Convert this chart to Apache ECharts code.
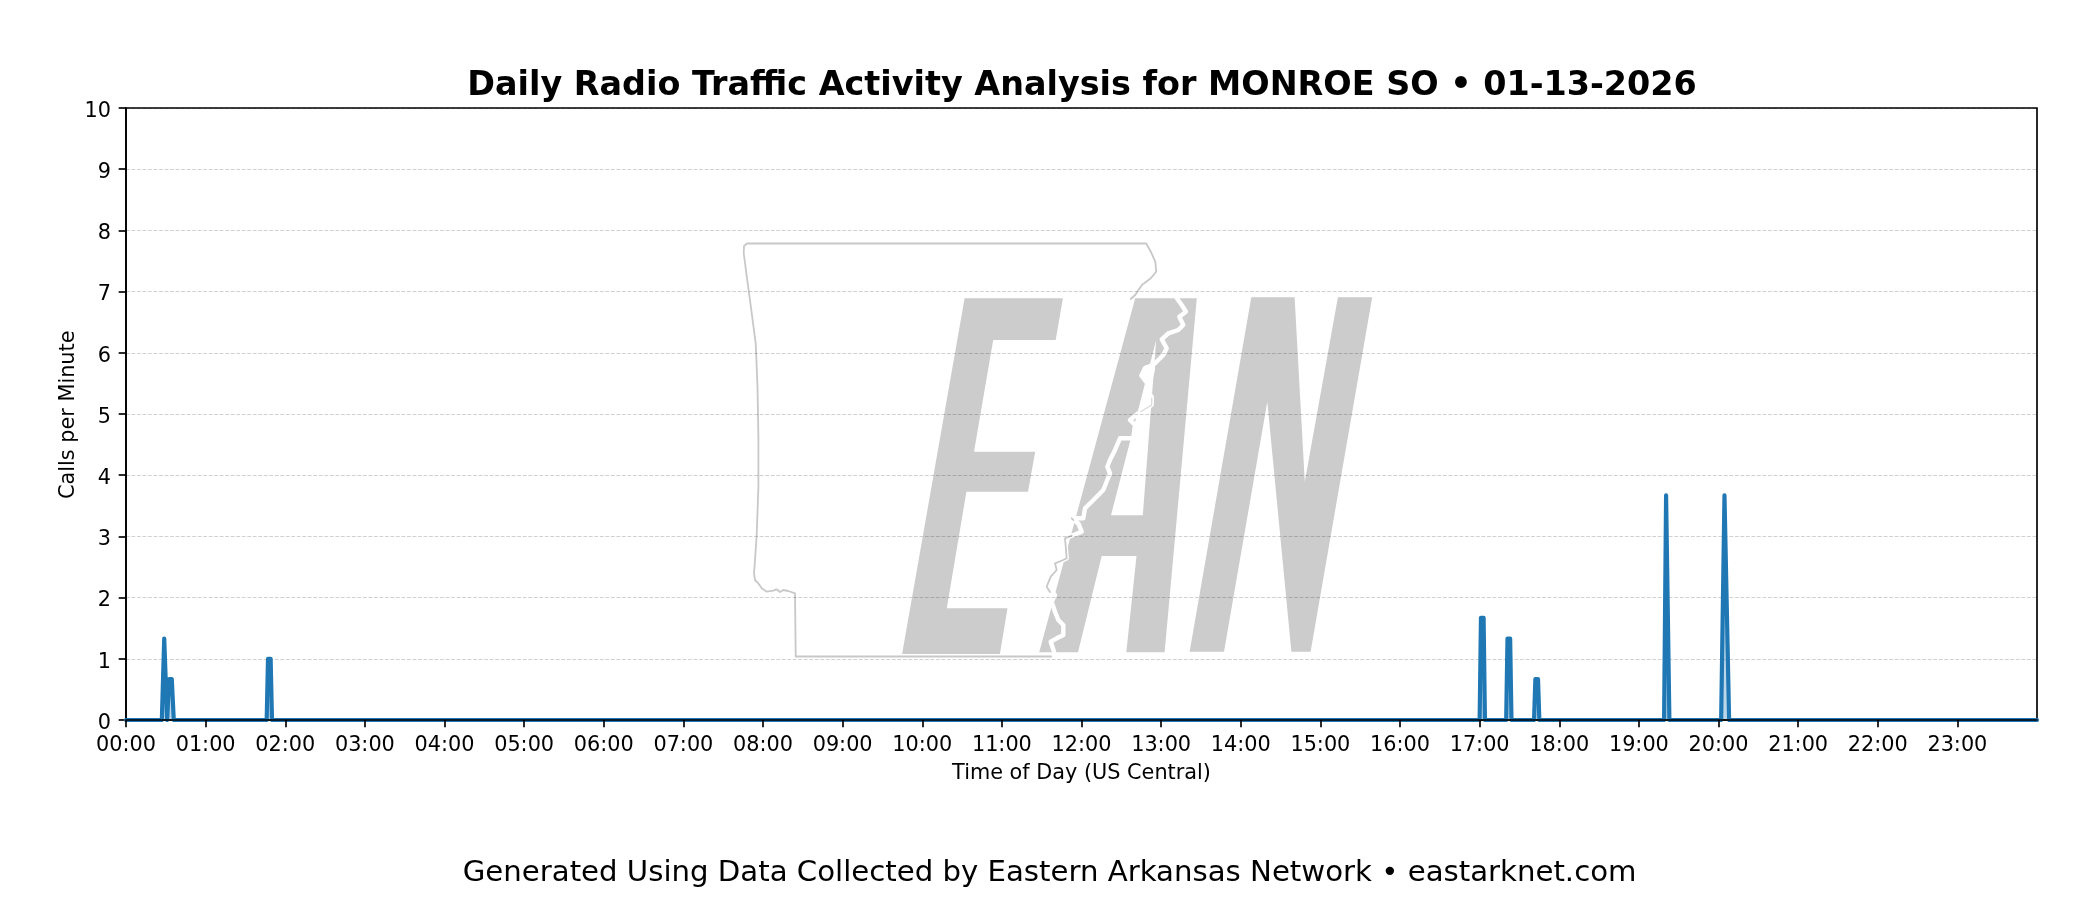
<!DOCTYPE html>
<html><head><meta charset="utf-8">
<style>html,body{margin:0;padding:0;background:#fff}#c{width:2100px;height:900px}</style>
<script src="https://cdn.jsdelivr.net/npm/echarts@6/dist/echarts.min.js"></script>
</head><body><div id="c"></div>
<script>
// ---- data ----
const chartTitle = 'Daily Radio Traffic Activity Analysis for MONROE SO \u2022 01-13-2026';
const footerText = 'Generated Using Data Collected by Eastern Arkansas Network \u2022 eastarknet.com';
const xAxisName = 'Time of Day (US Central)';
const yAxisName = 'Calls per Minute';
const tickLabels = ['00:00','01:00','02:00','03:00','04:00','05:00','06:00','07:00','08:00','09:00','10:00','11:00','12:00','13:00','14:00','15:00','16:00','17:00','18:00','19:00','20:00','21:00','22:00','23:00'];
const tickMinutes = [0,60,120,180,240,300,360,420,480,540,600,660,720,780,840,900,960,1020,1080,1140,1200,1260,1320,1380];
const minutes = [0,27,28.8,29.8,31,32.5,34.5,36,106,107,109,110,1020,1021,1023,1024,1040,1041,1043,1044,1061,1062,1064,1065,1159,1160.5,1161.5,1163,1202,1204.5,1205.5,1208,1440];
const callsPerMinute = [0,0,1.33,1.33,0,0.67,0.67,0,0,1,1,0,0,1.67,1.67,0,0,1.33,1.33,0,0,0.67,0.67,0,0,3.67,3.67,0,0,3.67,3.67,0,0];

// ---- watermark artwork (decoration, not data) ----
const letterE = [[964.6,298.3],[1062.9,298.3],[1055.7,340],[993.2,340],[974,451.7],[1035.2,451.7],[1028,491.7],[966.4,491.7],[946.8,608.3],[1007.5,608.3],[999.9,654],[902.1,654]];
const letterA = [[1135.2,298.3],[1196.8,298.3],[1164.6,652.3],[1126.3,652.3],[1136.5,556],[1101.7,556],[1078,652.3],[1039.2,652.3]];
const counterA = [[1156.2,340],[1142.8,515.3],[1111,515.3]];
const letterN = [[1251.3,297.3],[1294.6,297.3],[1304.8,481.7],[1337.9,297.3],[1372.2,297.3],[1310.6,651.7],[1291.4,651.7],[1267.3,401.7],[1224,651.7],[1189.6,651.7]];
const riverBlob = [[1155,362],[1144,366],[1139,376],[1145,384],[1153,378],[1155,370]];
const river = [[1176.7,298],[1181.7,305],[1186,311.7],[1179.3,316.7],[1183.3,325],[1178.3,330],[1168.3,333.3],[1161.7,339.3],[1166.7,348.3],[1163.3,355],[1158.3,360],[1153.3,365],[1145,368.3],[1141.7,375],[1145,378.3],[1150,385],[1146.7,390],[1151.7,396.7],[1151.7,405],[1138.3,413.3],[1130,420],[1135,425],[1133.3,438.3],[1120,438.3],[1115,450],[1110,460],[1107.3,466.7],[1110,473.3],[1103.3,490],[1091.7,501.7],[1085,508.3],[1083.3,518.3],[1071.7,518.3],[1073.3,520],[1078.3,523.3],[1081.7,531.7],[1071.7,535.7],[1065,538.3],[1066.7,558.3],[1063.3,560],[1055,563.3],[1056.7,570],[1050.7,576.7],[1046.7,586.7],[1055,595],[1051.7,601.7],[1055,611.7],[1058.3,620],[1063.3,625],[1063.3,635],[1056.7,638.3],[1050.7,641.7],[1054,651.7],[1054,656.7]];
const outlineGrayA = [[1130.7,299],[1135.2,295],[1141.9,285],[1150.8,278.3],[1156.2,271.7],[1155.3,261.7],[1150.8,251.7],[1146.3,243.5],[747,243.5],[744,246],[743.7,253],[746.8,276.7],[751.3,310],[755.7,343.3],[757.5,386.7],[758.4,436.7],[758.4,486.7],[756.6,536.7],[755,560],[754,573.3],[755,580],[758.3,583.3],[761.7,588.3],[766.7,591.7],[773.3,590.7],[776.7,589.3],[780,592],[783.3,590],[788.3,591],[795,593.3],[795.7,656.5],[1054,656.5],[1054,651.7]];
const outlineGrayB = [[1071.7,518.3],[1073.3,520]];
const outlineGrayC = [[1071.7,535.7],[1065,538.3],[1066.7,558.3],[1063.3,560],[1055,563.3],[1056.7,570],[1050.7,576.7],[1046.7,586.7],[1050,592]];
const outlineGrayD = [[1151.7,398],[1151.7,405],[1141,411.5]];

const wmGray = '#cccccc';
function poly(points, fill){ return {type:'polygon', z:0, silent:true, shape:{points:points}, style:{fill:fill}}; }
function line(points, color, width){ return {type:'polyline', z:0, silent:true, shape:{points:points}, style:{fill:null, stroke:color, lineWidth:width, lineJoin:'round', lineCap:'round'}}; }

const chart = echarts.init(document.getElementById('c'), null, {renderer:'canvas', width:2100, height:900});
chart.setOption({
  animation:false,
  backgroundColor:'#ffffff',
  textStyle:{fontFamily:'"DejaVu Sans"', color:'#000'},
  title:[
    {text:chartTitle, left:1077, top:64.5, textAlign:'center', textStyle:{fontFamily:'"DejaVu Sans"', fontSize:33.4, fontWeight:'bold', color:'#000'}},
    {text:footerText, left:1044.6, top:854, textAlign:'center', textStyle:{fontFamily:'"DejaVu Sans"', fontSize:29.2, fontWeight:'normal', color:'#000'}}
  ],
  grid:{left:126, top:108, width:1911, height:612, show:true, borderColor:'#000', borderWidth:1.67, backgroundColor:'transparent', containLabel:false},
  xAxis:{
    type:'value', min:0, max:1440, z:5,
    name:xAxisName, nameLocation:'middle', nameGap:43, nameTextStyle:{fontFamily:'"DejaVu Sans"', fontSize:20.8, color:'#000'},
    axisLine:{show:true, onZero:false, lineStyle:{color:'#000', width:1.67}},
    axisTick:{show:true, length:7.3, inside:false, customValues:tickMinutes, lineStyle:{color:'#000', width:1.67}},
    axisLabel:{show:true, margin:15, fontFamily:'"DejaVu Sans"', fontSize:20.8, color:'#000', customValues:tickMinutes,
      formatter:function(v){ return tickLabels[tickMinutes.indexOf(v)]; }},
    splitLine:{show:false}
  },
  yAxis:{
    type:'value', min:0, max:10, interval:1, z:1,
    name:yAxisName, nameLocation:'middle', nameGap:47, nameMoveOverlap:false, nameTextStyle:{fontFamily:'"DejaVu Sans"', fontSize:20.8, color:'#000', padding:[0,1.5,0,0]},
    axisLine:{show:true, lineStyle:{color:'#000', width:1.67}},
    axisTick:{show:true, length:7.3, lineStyle:{color:'#000', width:1.67}},
    axisLabel:{show:true, margin:15, padding:[0,0,0,0], lineHeight:7, verticalAlign:'top', fontFamily:'"DejaVu Sans"', fontSize:20.8, color:'#000'},
    splitLine:{show:true, lineStyle:{color:'rgba(0,0,0,0.18)', width:1, type:[3.85,1.66]}}
  },
  graphic:{elements:[
    line(outlineGrayA, '#c8c8c8', 1.8),
    {type:'group', z:0, silent:true, children:[
      poly(letterE, wmGray), poly(letterA, wmGray), poly(letterN, wmGray), poly(counterA, '#ffffff'),
      poly(riverBlob, '#ffffff'), line(river, '#ffffff', 4.4),
      line(outlineGrayB, '#c8c8c8', 1.8), line(outlineGrayC, '#c8c8c8', 1.8), line(outlineGrayD, '#d8d8d8', 1.2)
    ]}
  ]},
  series:[{
    type:'line', showSymbol:false, symbol:'none', smooth:false, z:2, clip:true,
    data:minutes.map(function(m,i){ return [m, callsPerMinute[i]]; }),
    lineStyle:{color:'#1f77b4', width:4.17, join:'round', cap:'round'},
    areaStyle:{color:'#1f77b4', opacity:0.3}
  }]
});
</script></body></html>
